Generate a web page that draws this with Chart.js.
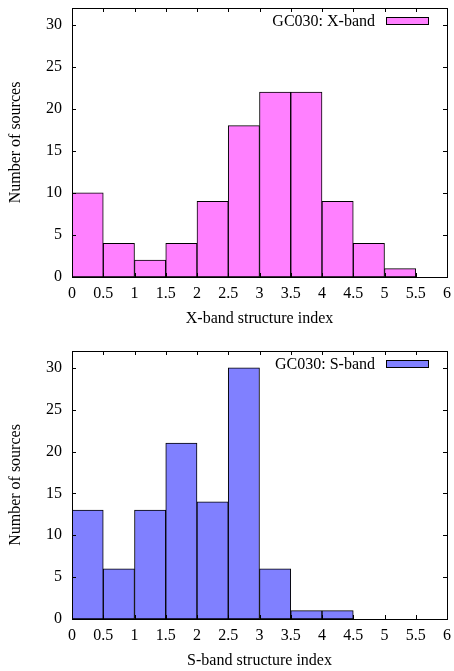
<!DOCTYPE html>
<html><head><meta charset="utf-8">
<script src="https://cdn.jsdelivr.net/npm/chart.js@4"></script>
<style>
html,body{margin:0;padding:0;background:#fff;}
#w1{position:absolute;left:0;top:0;width:454px;height:335px;}
#w2{position:absolute;left:0;top:335px;width:454px;height:336px;}
</style></head><body>
<div id="w1"><canvas id="c1"></canvas></div>
<div id="w2"><canvas id="c2"></canvas></div>
<script>
// ---- data ----
const binCenters = [0.25, 0.75, 1.25, 1.75, 2.25, 2.75, 3.25, 3.75, 4.25, 4.75, 5.25, 5.75];
const xBandCounts = [10, 4, 2, 4, 9, 18, 22, 22, 9, 4, 1, 0];
const sBandCounts = [13, 6, 13, 21, 14, 30, 6, 1, 1, 0, 0, 0];
const xTickValues = [0, 0.5, 1, 1.5, 2, 2.5, 3, 3.5, 4, 4.5, 5, 5.5, 6];
const xTickLabels = ['0', '0.5', '1', '1.5', '2', '2.5', '3', '3.5', '4', '4.5', '5', '5.5', '6'];
const yTickValues = [0, 5, 10, 15, 20, 25, 30];
const yTickLabels = ['0', '5', '10', '15', '20', '25', '30'];
const xLabelX = 'X-band structure index';
const xLabelS = 'S-band structure index';
const yLabel = 'Number of sources';
const seriesX = 'GC030: X-band';
const seriesS = 'GC030: S-band';

const FONT = '"Liberation Serif", "Times New Roman", serif';

const framePlugin = {
  id: 'frame',
  afterDatasetsDraw(chart) {
    const {ctx, chartArea: a, scales: {x, y}} = chart;
    const L = 4;
    ctx.save();
    ctx.strokeStyle = '#000';
    ctx.lineWidth = 1;
    ctx.beginPath();
    x.ticks.forEach(t => {
      const px = Math.round(x.getPixelForValue(t.value)) + 0.5;
      ctx.moveTo(px, a.bottom); ctx.lineTo(px, a.bottom - L);
      ctx.moveTo(px, a.top); ctx.lineTo(px, a.top + L);
    });
    y.ticks.forEach(t => {
      const py = Math.round(y.getPixelForValue(t.value)) + 0.5;
      ctx.moveTo(a.left, py); ctx.lineTo(a.left + L, py);
      ctx.moveTo(a.right, py); ctx.lineTo(a.right - L, py);
    });
    ctx.stroke();
    ctx.strokeRect(Math.round(a.left) + 0.5, Math.round(a.top) + 0.5,
                   Math.round(a.right) - Math.round(a.left), Math.round(a.bottom) - Math.round(a.top));
    // legend
    const ds = chart.data.datasets[0];
    ctx.font = '16px ' + FONT;
    ctx.fillStyle = '#000';
    ctx.textAlign = 'right';
    ctx.textBaseline = 'alphabetic';
    ctx.fillText(ds.label, a.right - 72, a.top + 18);
    const sx = Math.round(a.right - 61), sy = Math.round(a.top + 9);
    ctx.fillStyle = ds.backgroundColor;
    ctx.fillRect(sx, sy, 42, 7);
    ctx.strokeRect(sx + 0.5, sy + 0.5, 42, 7);
    ctx.restore();
  }
};

function makeChart(id, counts, label, color, xTitle, topPad, bottomPad) {
  return new Chart(document.getElementById(id), {
    type: 'bar',
    data: {
      datasets: [{
        label: label,
        data: binCenters.map((c, i) => ({x: c, y: counts[i]})),
        backgroundColor: color,
        borderColor: '#000',
        borderWidth: 1,
        borderSkipped: false,
        barPercentage: 1,
        categoryPercentage: 1
      }]
    },
    options: {
      responsive: true,
      maintainAspectRatio: false,
      animation: false,
      layout: {padding: {left: 0, right: 7, top: topPad, bottom: bottomPad}},
      plugins: {legend: {display: false}, tooltip: {enabled: false}},
      scales: {
        x: {
          type: 'linear',
          min: 0, max: 6,
          offset: false,
          grid: {display: false, offset: false, drawTicks: false},
          border: {display: false},
          afterBuildTicks: s => { s.ticks = xTickValues.map(v => ({value: v})); },
          afterFit: s => { s.height = 51; s.paddingLeft = 0; s.paddingRight = 0; s.paddingTop = 0; s.paddingBottom = 0; },
          ticks: {
            color: '#000', padding: 7, maxRotation: 0, autoSkip: false,
            font: {family: FONT, size: 16},
            callback: (v, i) => xTickLabels[i]
          },
          title: {display: true, text: xTitle, color: '#000', font: {family: FONT, size: 16}, padding: {top: 0, bottom: 0}}
        },
        y: {
          min: 0, max: 32,
          grid: {display: false, drawTicks: false},
          border: {display: false},
          afterBuildTicks: s => { s.ticks = yTickValues.map(v => ({value: v})); },
          afterFit: s => { s.width = 72; s.paddingLeft = 0; s.paddingRight = 0; s.paddingTop = 0; s.paddingBottom = 0; },
          ticks: {
            color: '#000', padding: 10,
            font: {family: FONT, size: 16},
            callback: (v, i) => yTickLabels[i]
          },
          title: {display: true, text: yLabel, color: '#000', font: {family: FONT, size: 16}, padding: {top: 6, bottom: 0}}
        }
      }
    },
    plugins: [framePlugin]
  });
}

makeChart('c1', xBandCounts, seriesX, '#ff80ff', xLabelX, 8, 7);
makeChart('c2', sBandCounts, seriesS, '#8080ff', xLabelS, 16, 1);
</script>
</body></html>
